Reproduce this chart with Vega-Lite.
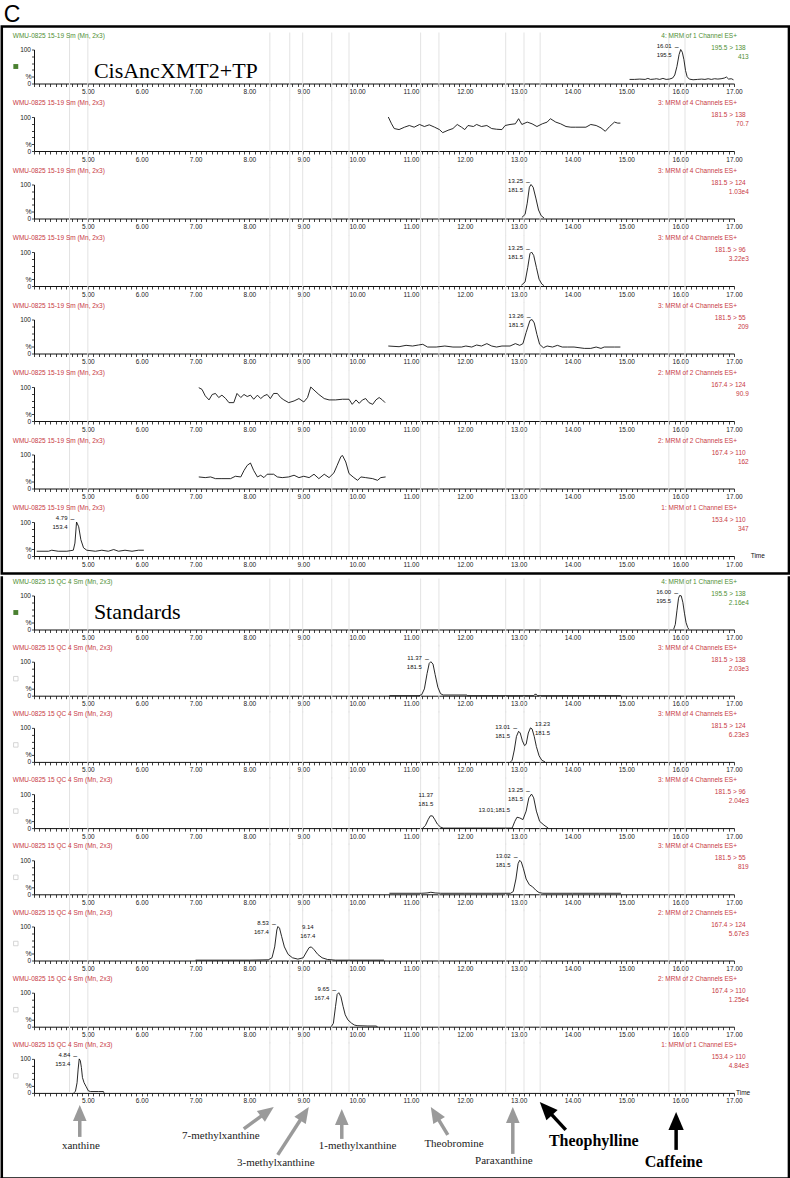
{
"$schema":"https://vega.github.io/schema/vega-lite/v6.json",
"background":"white",
"padding":{"left":0,"top":3.5,"right":0,"bottom":0},
"datasets":{
"guides":[{"g":4.66},{"g":5.0},{"g":8.38},{"g":8.75},{"g":8.99},{"g":9.53},{"g":9.85},{"g":11.18},{"g":11.52},{"g":12.76},{"g":13.1},{"g":13.4},{"g":15.79},{"g":16.09}],
"info":[
{"p":1,"fn":4,"run":"WMU-0825 15-19 Sm (Mn, 2x3)","mrm":"4: MRM of 1 Channel ES+","trans":"195.5 > 138","sc":"413"},
{"p":2,"fn":3,"run":"WMU-0825 15-19 Sm (Mn, 2x3)","mrm":"3: MRM of 4 Channels ES+","trans":"181.5 > 138","sc":"70.7"},
{"p":3,"fn":3,"run":"WMU-0825 15-19 Sm (Mn, 2x3)","mrm":"3: MRM of 4 Channels ES+","trans":"181.5 > 124","sc":"1.03e4"},
{"p":4,"fn":3,"run":"WMU-0825 15-19 Sm (Mn, 2x3)","mrm":"3: MRM of 4 Channels ES+","trans":"181.5 > 96","sc":"3.22e3"},
{"p":5,"fn":3,"run":"WMU-0825 15-19 Sm (Mn, 2x3)","mrm":"3: MRM of 4 Channels ES+","trans":"181.5 > 55","sc":"209"},
{"p":6,"fn":2,"run":"WMU-0825 15-19 Sm (Mn, 2x3)","mrm":"2: MRM of 2 Channels ES+","trans":"167.4 > 124","sc":"90.9"},
{"p":7,"fn":2,"run":"WMU-0825 15-19 Sm (Mn, 2x3)","mrm":"2: MRM of 2 Channels ES+","trans":"167.4 > 110","sc":"162"},
{"p":8,"fn":1,"run":"WMU-0825 15-19 Sm (Mn, 2x3)","mrm":"1: MRM of 1 Channel ES+","trans":"153.4 > 110","sc":"347"},
{"p":9,"fn":4,"run":"WMU-0825 15 QC 4 Sm (Mn, 2x3)","mrm":"4: MRM of 1 Channel ES+","trans":"195.5 > 138","sc":"2.16e4"},
{"p":10,"fn":3,"run":"WMU-0825 15 QC 4 Sm (Mn, 2x3)","mrm":"3: MRM of 4 Channels ES+","trans":"181.5 > 138","sc":"2.03e3"},
{"p":11,"fn":3,"run":"WMU-0825 15 QC 4 Sm (Mn, 2x3)","mrm":"3: MRM of 4 Channels ES+","trans":"181.5 > 124","sc":"6.23e3"},
{"p":12,"fn":3,"run":"WMU-0825 15 QC 4 Sm (Mn, 2x3)","mrm":"3: MRM of 4 Channels ES+","trans":"181.5 > 96","sc":"2.04e3"},
{"p":13,"fn":3,"run":"WMU-0825 15 QC 4 Sm (Mn, 2x3)","mrm":"3: MRM of 4 Channels ES+","trans":"181.5 > 55","sc":"819"},
{"p":14,"fn":2,"run":"WMU-0825 15 QC 4 Sm (Mn, 2x3)","mrm":"2: MRM of 2 Channels ES+","trans":"167.4 > 124","sc":"5.67e3"},
{"p":15,"fn":2,"run":"WMU-0825 15 QC 4 Sm (Mn, 2x3)","mrm":"2: MRM of 2 Channels ES+","trans":"167.4 > 110","sc":"1.25e4"},
{"p":16,"fn":1,"run":"WMU-0825 15 QC 4 Sm (Mn, 2x3)","mrm":"1: MRM of 1 Channel ES+","trans":"153.4 > 110","sc":"4.84e3"}
],
"peaks":[
{"p":1,"rt":16.01,"ht":100,"l1":"16.01","l2":"195.5"},
{"p":3,"rt":13.25,"ht":100,"l1":"13.25","l2":"181.5"},
{"p":4,"rt":13.25,"ht":100,"l1":"13.25","l2":"181.5"},
{"p":5,"rt":13.26,"ht":100,"l1":"13.26","l2":"181.5"},
{"p":8,"rt":4.79,"ht":100,"l1":"4.79","l2":"153.4"},
{"p":9,"rt":16.0,"ht":100,"l1":"16.00","l2":"195.5"},
{"p":10,"rt":11.37,"ht":100,"l1":"11.37","l2":"181.5"},
{"p":11,"rt":13.01,"ht":90,"l1":"13.01","l2":"181.5"},
{"p":12,"rt":13.25,"ht":100,"l1":"13.25","l2":"181.5"},
{"p":13,"rt":13.02,"ht":100,"l1":"13.02","l2":"181.5"},
{"p":14,"rt":8.53,"ht":100,"l1":"8.53","l2":"167.4"},
{"p":15,"rt":9.65,"ht":100,"l1":"9.65","l2":"167.4"},
{"p":16,"rt":4.84,"ht":100,"l1":"4.84","l2":"153.4"}
],
"tr":[
{"p":1,"t":15.06,"v":12},{"p":1,"t":15.15,"v":12},{"p":1,"t":15.25,"v":13},{"p":1,"t":15.35,"v":12},{"p":1,"t":15.4,"v":15},{"p":1,"t":15.45,"v":12},{"p":1,"t":15.52,"v":13},{"p":1,"t":15.56,"v":14},{"p":1,"t":15.62,"v":12},{"p":1,"t":15.68,"v":15},{"p":1,"t":15.74,"v":12},{"p":1,"t":15.8,"v":13},{"p":1,"t":15.86,"v":16},{"p":1,"t":15.9,"v":25},{"p":1,"t":15.94,"v":50},{"p":1,"t":15.98,"v":85},{"p":1,"t":16.01,"v":100},{"p":1,"t":16.04,"v":92},{"p":1,"t":16.07,"v":70},{"p":1,"t":16.1,"v":38},{"p":1,"t":16.13,"v":20},{"p":1,"t":16.17,"v":13},{"p":1,"t":16.24,"v":11},{"p":1,"t":16.32,"v":12},{"p":1,"t":16.4,"v":13},{"p":1,"t":16.46,"v":12},{"p":1,"t":16.52,"v":14},{"p":1,"t":16.58,"v":12},{"p":1,"t":16.64,"v":14},{"p":1,"t":16.7,"v":13},{"p":1,"t":16.76,"v":14},{"p":1,"t":16.82,"v":16},{"p":1,"t":16.86,"v":19},{"p":1,"t":16.9,"v":13},{"p":1,"t":16.95,"v":14},{"p":1,"t":16.99,"v":11},
{"p":2,"t":10.58,"v":100},{"p":2,"t":10.64,"v":80},{"p":2,"t":10.69,"v":66},{"p":2,"t":10.78,"v":63},{"p":2,"t":10.88,"v":70},{"p":2,"t":10.97,"v":75},{"p":2,"t":11.06,"v":70},{"p":2,"t":11.16,"v":78},{"p":2,"t":11.25,"v":72},{"p":2,"t":11.34,"v":77},{"p":2,"t":11.44,"v":70},{"p":2,"t":11.53,"v":63},{"p":2,"t":11.59,"v":54},{"p":2,"t":11.69,"v":61},{"p":2,"t":11.78,"v":66},{"p":2,"t":11.86,"v":78},{"p":2,"t":11.94,"v":70},{"p":2,"t":12.0,"v":63},{"p":2,"t":12.06,"v":75},{"p":2,"t":12.16,"v":72},{"p":2,"t":12.22,"v":78},{"p":2,"t":12.31,"v":72},{"p":2,"t":12.41,"v":75},{"p":2,"t":12.5,"v":66},{"p":2,"t":12.59,"v":64},{"p":2,"t":12.69,"v":63},{"p":2,"t":12.75,"v":75},{"p":2,"t":12.84,"v":78},{"p":2,"t":12.94,"v":80},{"p":2,"t":13.0,"v":95},{"p":2,"t":13.06,"v":78},{"p":2,"t":13.16,"v":85},{"p":2,"t":13.25,"v":80},{"p":2,"t":13.34,"v":72},{"p":2,"t":13.44,"v":80},{"p":2,"t":13.53,"v":85},{"p":2,"t":13.59,"v":95},{"p":2,"t":13.69,"v":85},{"p":2,"t":13.78,"v":80},{"p":2,"t":13.88,"v":72},{"p":2,"t":13.97,"v":70},{"p":2,"t":14.06,"v":70},{"p":2,"t":14.25,"v":70},{"p":2,"t":14.34,"v":78},{"p":2,"t":14.44,"v":75},{"p":2,"t":14.53,"v":68},{"p":2,"t":14.61,"v":58},{"p":2,"t":14.69,"v":72},{"p":2,"t":14.78,"v":85},{"p":2,"t":14.84,"v":82},{"p":2,"t":14.89,"v":82},
{"p":3,"t":13.06,"v":3},{"p":3,"t":13.12,"v":12},{"p":3,"t":13.16,"v":45},{"p":3,"t":13.2,"v":92},{"p":3,"t":13.23,"v":100},{"p":3,"t":13.27,"v":92},{"p":3,"t":13.32,"v":60},{"p":3,"t":13.37,"v":25},{"p":3,"t":13.42,"v":8},{"p":3,"t":13.47,"v":2},
{"p":4,"t":13.05,"v":2},{"p":4,"t":13.12,"v":12},{"p":4,"t":13.17,"v":55},{"p":4,"t":13.21,"v":95},{"p":4,"t":13.24,"v":100},{"p":4,"t":13.28,"v":90},{"p":4,"t":13.33,"v":55},{"p":4,"t":13.38,"v":20},{"p":4,"t":13.43,"v":6},{"p":4,"t":13.47,"v":1},
{"p":5,"t":10.58,"v":22},{"p":5,"t":10.78,"v":20},{"p":5,"t":10.91,"v":24},{"p":5,"t":11.03,"v":22},{"p":5,"t":11.14,"v":25},{"p":5,"t":11.22,"v":27},{"p":5,"t":11.31,"v":19},{"p":5,"t":11.47,"v":19},{"p":5,"t":11.63,"v":22},{"p":5,"t":11.78,"v":19},{"p":5,"t":11.94,"v":19},{"p":5,"t":12.02,"v":22},{"p":5,"t":12.13,"v":19},{"p":5,"t":12.22,"v":25},{"p":5,"t":12.31,"v":22},{"p":5,"t":12.41,"v":29},{"p":5,"t":12.5,"v":22},{"p":5,"t":12.59,"v":19},{"p":5,"t":12.69,"v":22},{"p":5,"t":12.84,"v":22},{"p":5,"t":12.94,"v":29},{"p":5,"t":13.02,"v":24},{"p":5,"t":13.08,"v":29},{"p":5,"t":13.14,"v":62},{"p":5,"t":13.21,"v":97},{"p":5,"t":13.25,"v":100},{"p":5,"t":13.29,"v":90},{"p":5,"t":13.34,"v":56},{"p":5,"t":13.39,"v":27},{"p":5,"t":13.46,"v":17},{"p":5,"t":13.53,"v":22},{"p":5,"t":13.63,"v":19},{"p":5,"t":13.72,"v":24},{"p":5,"t":13.81,"v":19},{"p":5,"t":13.91,"v":19},{"p":5,"t":14.03,"v":19},{"p":5,"t":14.22,"v":15},{"p":5,"t":14.34,"v":15},{"p":5,"t":14.44,"v":19},{"p":5,"t":14.53,"v":15},{"p":5,"t":14.59,"v":19},{"p":5,"t":14.78,"v":19},{"p":5,"t":14.89,"v":19},
{"p":6,"t":7.06,"v":98},{"p":6,"t":7.12,"v":93},{"p":6,"t":7.18,"v":74},{"p":6,"t":7.25,"v":62},{"p":6,"t":7.31,"v":78},{"p":6,"t":7.37,"v":81},{"p":6,"t":7.43,"v":69},{"p":6,"t":7.49,"v":76},{"p":6,"t":7.56,"v":66},{"p":6,"t":7.62,"v":54},{"p":6,"t":7.71,"v":54},{"p":6,"t":7.77,"v":81},{"p":6,"t":7.84,"v":69},{"p":6,"t":7.9,"v":78},{"p":6,"t":7.96,"v":72},{"p":6,"t":8.02,"v":76},{"p":6,"t":8.08,"v":64},{"p":6,"t":8.15,"v":76},{"p":6,"t":8.21,"v":66},{"p":6,"t":8.27,"v":74},{"p":6,"t":8.33,"v":78},{"p":6,"t":8.39,"v":66},{"p":6,"t":8.45,"v":81},{"p":6,"t":8.52,"v":81},{"p":6,"t":8.58,"v":69},{"p":6,"t":8.64,"v":62},{"p":6,"t":8.73,"v":54},{"p":6,"t":8.83,"v":59},{"p":6,"t":8.92,"v":66},{"p":6,"t":9.01,"v":56},{"p":6,"t":9.08,"v":69},{"p":6,"t":9.14,"v":100},{"p":6,"t":9.2,"v":91},{"p":6,"t":9.29,"v":78},{"p":6,"t":9.39,"v":66},{"p":6,"t":9.48,"v":62},{"p":6,"t":9.6,"v":62},{"p":6,"t":9.73,"v":64},{"p":6,"t":9.85,"v":64},{"p":6,"t":9.91,"v":49},{"p":6,"t":9.98,"v":62},{"p":6,"t":10.04,"v":52},{"p":6,"t":10.1,"v":62},{"p":6,"t":10.16,"v":66},{"p":6,"t":10.22,"v":54},{"p":6,"t":10.29,"v":49},{"p":6,"t":10.35,"v":62},{"p":6,"t":10.41,"v":69},{"p":6,"t":10.47,"v":62},{"p":6,"t":10.52,"v":54},
{"p":7,"t":7.06,"v":34},{"p":7,"t":7.18,"v":32},{"p":7,"t":7.28,"v":34},{"p":7,"t":7.37,"v":29},{"p":7,"t":7.49,"v":29},{"p":7,"t":7.65,"v":29},{"p":7,"t":7.74,"v":36},{"p":7,"t":7.84,"v":34},{"p":7,"t":7.9,"v":53},{"p":7,"t":7.96,"v":68},{"p":7,"t":8.02,"v":75},{"p":7,"t":8.08,"v":53},{"p":7,"t":8.15,"v":34},{"p":7,"t":8.21,"v":39},{"p":7,"t":8.27,"v":32},{"p":7,"t":8.33,"v":42},{"p":7,"t":8.45,"v":42},{"p":7,"t":8.52,"v":34},{"p":7,"t":8.61,"v":32},{"p":7,"t":8.73,"v":34},{"p":7,"t":8.83,"v":39},{"p":7,"t":8.92,"v":32},{"p":7,"t":9.01,"v":36},{"p":7,"t":9.11,"v":32},{"p":7,"t":9.2,"v":42},{"p":7,"t":9.29,"v":29},{"p":7,"t":9.39,"v":42},{"p":7,"t":9.48,"v":32},{"p":7,"t":9.57,"v":46},{"p":7,"t":9.63,"v":68},{"p":7,"t":9.7,"v":94},{"p":7,"t":9.73,"v":97},{"p":7,"t":9.79,"v":78},{"p":7,"t":9.85,"v":44},{"p":7,"t":9.94,"v":32},{"p":7,"t":10.01,"v":24},{"p":7,"t":10.07,"v":34},{"p":7,"t":10.16,"v":32},{"p":7,"t":10.29,"v":29},{"p":7,"t":10.38,"v":24},{"p":7,"t":10.44,"v":32},{"p":7,"t":10.53,"v":34},
{"p":8,"t":4.05,"v":14},{"p":8,"t":4.27,"v":14},{"p":8,"t":4.33,"v":17},{"p":8,"t":4.45,"v":14},{"p":8,"t":4.61,"v":14},{"p":8,"t":4.73,"v":17},{"p":8,"t":4.76,"v":38},{"p":8,"t":4.79,"v":100},{"p":8,"t":4.83,"v":86},{"p":8,"t":4.87,"v":48},{"p":8,"t":4.92,"v":24},{"p":8,"t":4.98,"v":17},{"p":8,"t":5.14,"v":14},{"p":8,"t":5.26,"v":17},{"p":8,"t":5.38,"v":14},{"p":8,"t":5.48,"v":19},{"p":8,"t":5.57,"v":14},{"p":8,"t":5.69,"v":17},{"p":8,"t":5.82,"v":14},{"p":8,"t":5.94,"v":17},{"p":8,"t":6.04,"v":17},
{"p":9,"t":15.88,"v":1},{"p":9,"t":15.91,"v":15},{"p":9,"t":15.94,"v":55},{"p":9,"t":15.97,"v":92},{"p":9,"t":15.99,"v":100},{"p":9,"t":16.02,"v":99},{"p":9,"t":16.05,"v":80},{"p":9,"t":16.08,"v":48},{"p":9,"t":16.11,"v":20},{"p":9,"t":16.14,"v":6},{"p":9,"t":16.16,"v":1},
{"p":10,"t":10.6,"v":0},{"p":10,"t":11.15,"v":0},{"p":10,"t":11.2,"v":3},{"p":10,"t":11.25,"v":20},{"p":10,"t":11.3,"v":65},{"p":10,"t":11.34,"v":95},{"p":10,"t":11.37,"v":100},{"p":10,"t":11.41,"v":93},{"p":10,"t":11.45,"v":62},{"p":10,"t":11.5,"v":25},{"p":10,"t":11.55,"v":6},{"p":10,"t":11.6,"v":2},{"p":10,"t":12.04,"v":2},{"p":10,"t":12.05,"v":0},{"p":10,"t":13.28,"v":0},{"p":10,"t":13.3,"v":4},{"p":10,"t":13.33,"v":4},{"p":10,"t":13.35,"v":0},{"p":10,"t":14.9,"v":0},
{"p":11,"t":12.85,"v":0},{"p":11,"t":12.88,"v":5},{"p":11,"t":12.92,"v":35},{"p":11,"t":12.96,"v":75},{"p":11,"t":13.0,"v":90},{"p":11,"t":13.03,"v":85},{"p":11,"t":13.07,"v":62},{"p":11,"t":13.11,"v":48},{"p":11,"t":13.14,"v":52},{"p":11,"t":13.18,"v":85},{"p":11,"t":13.22,"v":100},{"p":11,"t":13.25,"v":97},{"p":11,"t":13.29,"v":75},{"p":11,"t":13.33,"v":45},{"p":11,"t":13.38,"v":18},{"p":11,"t":13.43,"v":5},{"p":11,"t":13.49,"v":0},
{"p":12,"t":11.22,"v":0},{"p":12,"t":11.27,"v":8},{"p":12,"t":11.32,"v":25},{"p":12,"t":11.36,"v":36},{"p":12,"t":11.4,"v":36},{"p":12,"t":11.44,"v":26},{"p":12,"t":11.49,"v":12},{"p":12,"t":11.55,"v":3},{"p":12,"t":11.6,"v":0},{"p":12,"t":12.88,"v":0},{"p":12,"t":12.93,"v":20},{"p":12,"t":12.97,"v":32},{"p":12,"t":13.02,"v":30},{"p":12,"t":13.08,"v":25},{"p":12,"t":13.14,"v":50},{"p":12,"t":13.19,"v":89},{"p":12,"t":13.24,"v":100},{"p":12,"t":13.28,"v":89},{"p":12,"t":13.33,"v":50},{"p":12,"t":13.39,"v":20},{"p":12,"t":13.47,"v":9},{"p":12,"t":13.55,"v":0},
{"p":13,"t":10.6,"v":3},{"p":13,"t":11.2,"v":3},{"p":13,"t":11.3,"v":4},{"p":13,"t":11.37,"v":6},{"p":13,"t":11.45,"v":4},{"p":13,"t":11.55,"v":3},{"p":13,"t":12.0,"v":3},{"p":13,"t":12.5,"v":3},{"p":13,"t":12.85,"v":3},{"p":13,"t":12.9,"v":8},{"p":13,"t":12.95,"v":45},{"p":13,"t":12.99,"v":90},{"p":13,"t":13.02,"v":100},{"p":13,"t":13.05,"v":95},{"p":13,"t":13.09,"v":75},{"p":13,"t":13.14,"v":45},{"p":13,"t":13.2,"v":28},{"p":13,"t":13.26,"v":22},{"p":13,"t":13.32,"v":12},{"p":13,"t":13.38,"v":5},{"p":13,"t":13.45,"v":3},{"p":13,"t":14.0,"v":3},{"p":13,"t":14.5,"v":3},{"p":13,"t":14.9,"v":3},
{"p":14,"t":7.0,"v":1},{"p":14,"t":8.0,"v":1},{"p":14,"t":8.35,"v":2},{"p":14,"t":8.42,"v":8},{"p":14,"t":8.47,"v":40},{"p":14,"t":8.51,"v":90},{"p":14,"t":8.53,"v":100},{"p":14,"t":8.56,"v":95},{"p":14,"t":8.6,"v":70},{"p":14,"t":8.65,"v":40},{"p":14,"t":8.72,"v":18},{"p":14,"t":8.8,"v":8},{"p":14,"t":8.9,"v":4},{"p":14,"t":9.0,"v":8},{"p":14,"t":9.06,"v":25},{"p":14,"t":9.11,"v":38},{"p":14,"t":9.15,"v":40},{"p":14,"t":9.2,"v":32},{"p":14,"t":9.27,"v":18},{"p":14,"t":9.35,"v":8},{"p":14,"t":9.45,"v":3},{"p":14,"t":9.6,"v":1},{"p":14,"t":10.5,"v":1},
{"p":15,"t":9.52,"v":0},{"p":15,"t":9.56,"v":10},{"p":15,"t":9.6,"v":60},{"p":15,"t":9.63,"v":95},{"p":15,"t":9.66,"v":100},{"p":15,"t":9.7,"v":88},{"p":15,"t":9.74,"v":60},{"p":15,"t":9.78,"v":35},{"p":15,"t":9.83,"v":20},{"p":15,"t":9.9,"v":10},{"p":15,"t":9.95,"v":5},{"p":15,"t":10.0,"v":3},{"p":15,"t":10.2,"v":2},{"p":15,"t":10.35,"v":2},{"p":15,"t":10.38,"v":0},
{"p":16,"t":4.74,"v":0},{"p":16,"t":4.77,"v":5},{"p":16,"t":4.8,"v":30},{"p":16,"t":4.82,"v":70},{"p":16,"t":4.84,"v":100},{"p":16,"t":4.86,"v":95},{"p":16,"t":4.88,"v":75},{"p":16,"t":4.9,"v":45},{"p":16,"t":4.93,"v":30},{"p":16,"t":4.97,"v":18},{"p":16,"t":5.01,"v":6},{"p":16,"t":5.05,"v":4},{"p":16,"t":5.2,"v":4},{"p":16,"t":5.29,"v":4},{"p":16,"t":5.3,"v":0}
]
},
"spacing":0,
"vconcat":[
{"spacing":33.5,"bounds":"flush","vconcat":[
{"width":700,"height":34,"layer":[
{"data":{"name":"guides"},"mark":{"type":"rule","color":"#e3e3e3","strokeWidth":1},"encoding":{"x":{"field":"g","type":"quantitative"},"y":{"datum":150},"y2":{"datum":-50}}},
{"data":{"name":"tr"},"transform":[{"filter":"datum.p==1"}],"mark":{"type":"line","color":"#111111","strokeWidth":0.9},"encoding":{"x":{"field":"t","type":"quantitative","scale":{"domain":[4,17],"nice":false,"zero":false},"axis":{"title":null,"labelExpr":"abs(datum.value-round(datum.value))<0.01 && datum.value>4.5 ? format(datum.value,'.2f') : ''"}},"y":{"field":"v","type":"quantitative","scale":{"domain":[0,100],"nice":false,"zero":false},"axis":{"title":"%","labelExpr":"datum.value==0 || datum.value==100 ? datum.label : ''"}}}},
{"data":{"name":"info"},"transform":[{"filter":"datum.p==1"}],"encoding":{"color":{"condition":{"test":"datum.fn==4","value":"#4f8f35"},"value":"#c83a44"}},"layer":[
{"mark":{"type":"text","align":"left","baseline":"middle","fontSize":6.5,"dy":-14},"encoding":{"x":{"datum":3.606},"y":{"datum":100},"text":{"field":"run"}}},
{"mark":{"type":"text","align":"right","baseline":"middle","fontSize":6.5,"dy":-14},"encoding":{"x":{"datum":17.056},"y":{"datum":100},"text":{"field":"mrm"}}},
{"mark":{"type":"text","align":"right","baseline":"middle","fontSize":6.5,"dy":-2},"encoding":{"x":{"datum":17.218},"y":{"datum":100},"text":{"field":"trans"}}},
{"mark":{"type":"text","align":"right","baseline":"middle","fontSize":6.5,"dy":7},"encoding":{"x":{"datum":17.274},"y":{"datum":100},"text":{"field":"sc"}}}]},
{"data":{"name":"peaks"},"transform":[{"filter":"datum.p==1"}],"encoding":{"x":{"field":"rt","type":"quantitative"},"y":{"field":"ht","type":"quantitative"}},"layer":[
{"mark":{"type":"text","align":"right","baseline":"middle","fontSize":6,"dx":-9,"dy":-4},"encoding":{"text":{"field":"l1"}}},
{"mark":{"type":"text","align":"right","baseline":"middle","fontSize":6,"dx":-9,"dy":5},"encoding":{"text":{"field":"l2"}}},
{"mark":{"type":"text","align":"center","baseline":"middle","fontSize":7,"dx":-4,"dy":-3,"text":"–"}}]},
{"data":{"values":[{}]},"layer":[
{"mark":{"type":"rect","fillOpacity":0,"stroke":"#000000","strokeWidth":2.5},"encoding":{"x":{"datum":3.402},"x2":{"datum":18.02},"y":{"datum":167.6},"y2":{"datum":-1441}}},
{"mark":{"type":"text","text":"C","font":"Liberation Sans","fontSize":23,"align":"left","baseline":"top","dy":-45.5,"color":"#000000"},"encoding":{"x":{"datum":3.439},"y":{"datum":100}}},
{"mark":{"type":"text","text":"CisAncXMT2+TP","font":"Liberation Serif","fontSize":22,"align":"left","baseline":"alphabetic","color":"#000000"},"encoding":{"x":{"datum":5.112},"y":{"datum":15}}},
{"mark":{"type":"square","size":24,"filled":true,"color":"#4a8030","opacity":1},"encoding":{"x":{"datum":3.662},"y":{"datum":50}}}]}
]},
{"width":700,"height":34,"layer":[
{"data":{"name":"guides"},"mark":{"type":"rule","color":"#e3e3e3","strokeWidth":1},"encoding":{"x":{"field":"g","type":"quantitative"},"y":{"datum":150},"y2":{"datum":-50}}},
{"data":{"name":"tr"},"transform":[{"filter":"datum.p==2"}],"mark":{"type":"line","color":"#111111","strokeWidth":0.9},"encoding":{"x":{"field":"t","type":"quantitative","scale":{"domain":[4,17],"nice":false,"zero":false},"axis":{"title":null,"labelExpr":"abs(datum.value-round(datum.value))<0.01 && datum.value>4.5 ? format(datum.value,'.2f') : ''"}},"y":{"field":"v","type":"quantitative","scale":{"domain":[0,100],"nice":false,"zero":false},"axis":{"title":"%","labelExpr":"datum.value==0 || datum.value==100 ? datum.label : ''"}}}},
{"data":{"name":"info"},"transform":[{"filter":"datum.p==2"}],"encoding":{"color":{"condition":{"test":"datum.fn==4","value":"#4f8f35"},"value":"#c83a44"}},"layer":[
{"mark":{"type":"text","align":"left","baseline":"middle","fontSize":6.5,"dy":-14},"encoding":{"x":{"datum":3.606},"y":{"datum":100},"text":{"field":"run"}}},
{"mark":{"type":"text","align":"right","baseline":"middle","fontSize":6.5,"dy":-14},"encoding":{"x":{"datum":17.056},"y":{"datum":100},"text":{"field":"mrm"}}},
{"mark":{"type":"text","align":"right","baseline":"middle","fontSize":6.5,"dy":-2},"encoding":{"x":{"datum":17.218},"y":{"datum":100},"text":{"field":"trans"}}},
{"mark":{"type":"text","align":"right","baseline":"middle","fontSize":6.5,"dy":7},"encoding":{"x":{"datum":17.274},"y":{"datum":100},"text":{"field":"sc"}}}]}
]},
{"width":700,"height":34,"layer":[
{"data":{"name":"guides"},"mark":{"type":"rule","color":"#e3e3e3","strokeWidth":1},"encoding":{"x":{"field":"g","type":"quantitative"},"y":{"datum":150},"y2":{"datum":-50}}},
{"data":{"name":"tr"},"transform":[{"filter":"datum.p==3"}],"mark":{"type":"line","color":"#111111","strokeWidth":0.9},"encoding":{"x":{"field":"t","type":"quantitative","scale":{"domain":[4,17],"nice":false,"zero":false},"axis":{"title":null,"labelExpr":"abs(datum.value-round(datum.value))<0.01 && datum.value>4.5 ? format(datum.value,'.2f') : ''"}},"y":{"field":"v","type":"quantitative","scale":{"domain":[0,100],"nice":false,"zero":false},"axis":{"title":"%","labelExpr":"datum.value==0 || datum.value==100 ? datum.label : ''"}}}},
{"data":{"name":"info"},"transform":[{"filter":"datum.p==3"}],"encoding":{"color":{"condition":{"test":"datum.fn==4","value":"#4f8f35"},"value":"#c83a44"}},"layer":[
{"mark":{"type":"text","align":"left","baseline":"middle","fontSize":6.5,"dy":-14},"encoding":{"x":{"datum":3.606},"y":{"datum":100},"text":{"field":"run"}}},
{"mark":{"type":"text","align":"right","baseline":"middle","fontSize":6.5,"dy":-14},"encoding":{"x":{"datum":17.056},"y":{"datum":100},"text":{"field":"mrm"}}},
{"mark":{"type":"text","align":"right","baseline":"middle","fontSize":6.5,"dy":-2},"encoding":{"x":{"datum":17.218},"y":{"datum":100},"text":{"field":"trans"}}},
{"mark":{"type":"text","align":"right","baseline":"middle","fontSize":6.5,"dy":7},"encoding":{"x":{"datum":17.274},"y":{"datum":100},"text":{"field":"sc"}}}]},
{"data":{"name":"peaks"},"transform":[{"filter":"datum.p==3"}],"encoding":{"x":{"field":"rt","type":"quantitative"},"y":{"field":"ht","type":"quantitative"}},"layer":[
{"mark":{"type":"text","align":"right","baseline":"middle","fontSize":6,"dx":-9,"dy":-4},"encoding":{"text":{"field":"l1"}}},
{"mark":{"type":"text","align":"right","baseline":"middle","fontSize":6,"dx":-9,"dy":5},"encoding":{"text":{"field":"l2"}}},
{"mark":{"type":"text","align":"center","baseline":"middle","fontSize":7,"dx":-4,"dy":-3,"text":"–"}}]}
]},
{"width":700,"height":34,"layer":[
{"data":{"name":"guides"},"mark":{"type":"rule","color":"#e3e3e3","strokeWidth":1},"encoding":{"x":{"field":"g","type":"quantitative"},"y":{"datum":150},"y2":{"datum":-50}}},
{"data":{"name":"tr"},"transform":[{"filter":"datum.p==4"}],"mark":{"type":"line","color":"#111111","strokeWidth":0.9},"encoding":{"x":{"field":"t","type":"quantitative","scale":{"domain":[4,17],"nice":false,"zero":false},"axis":{"title":null,"labelExpr":"abs(datum.value-round(datum.value))<0.01 && datum.value>4.5 ? format(datum.value,'.2f') : ''"}},"y":{"field":"v","type":"quantitative","scale":{"domain":[0,100],"nice":false,"zero":false},"axis":{"title":"%","labelExpr":"datum.value==0 || datum.value==100 ? datum.label : ''"}}}},
{"data":{"name":"info"},"transform":[{"filter":"datum.p==4"}],"encoding":{"color":{"condition":{"test":"datum.fn==4","value":"#4f8f35"},"value":"#c83a44"}},"layer":[
{"mark":{"type":"text","align":"left","baseline":"middle","fontSize":6.5,"dy":-14},"encoding":{"x":{"datum":3.606},"y":{"datum":100},"text":{"field":"run"}}},
{"mark":{"type":"text","align":"right","baseline":"middle","fontSize":6.5,"dy":-14},"encoding":{"x":{"datum":17.056},"y":{"datum":100},"text":{"field":"mrm"}}},
{"mark":{"type":"text","align":"right","baseline":"middle","fontSize":6.5,"dy":-2},"encoding":{"x":{"datum":17.218},"y":{"datum":100},"text":{"field":"trans"}}},
{"mark":{"type":"text","align":"right","baseline":"middle","fontSize":6.5,"dy":7},"encoding":{"x":{"datum":17.274},"y":{"datum":100},"text":{"field":"sc"}}}]},
{"data":{"name":"peaks"},"transform":[{"filter":"datum.p==4"}],"encoding":{"x":{"field":"rt","type":"quantitative"},"y":{"field":"ht","type":"quantitative"}},"layer":[
{"mark":{"type":"text","align":"right","baseline":"middle","fontSize":6,"dx":-9,"dy":-4},"encoding":{"text":{"field":"l1"}}},
{"mark":{"type":"text","align":"right","baseline":"middle","fontSize":6,"dx":-9,"dy":5},"encoding":{"text":{"field":"l2"}}},
{"mark":{"type":"text","align":"center","baseline":"middle","fontSize":7,"dx":-4,"dy":-3,"text":"–"}}]}
]},
{"width":700,"height":34,"layer":[
{"data":{"name":"guides"},"mark":{"type":"rule","color":"#e3e3e3","strokeWidth":1},"encoding":{"x":{"field":"g","type":"quantitative"},"y":{"datum":150},"y2":{"datum":-50}}},
{"data":{"name":"tr"},"transform":[{"filter":"datum.p==5"}],"mark":{"type":"line","color":"#111111","strokeWidth":0.9},"encoding":{"x":{"field":"t","type":"quantitative","scale":{"domain":[4,17],"nice":false,"zero":false},"axis":{"title":null,"labelExpr":"abs(datum.value-round(datum.value))<0.01 && datum.value>4.5 ? format(datum.value,'.2f') : ''"}},"y":{"field":"v","type":"quantitative","scale":{"domain":[0,100],"nice":false,"zero":false},"axis":{"title":"%","labelExpr":"datum.value==0 || datum.value==100 ? datum.label : ''"}}}},
{"data":{"name":"info"},"transform":[{"filter":"datum.p==5"}],"encoding":{"color":{"condition":{"test":"datum.fn==4","value":"#4f8f35"},"value":"#c83a44"}},"layer":[
{"mark":{"type":"text","align":"left","baseline":"middle","fontSize":6.5,"dy":-14},"encoding":{"x":{"datum":3.606},"y":{"datum":100},"text":{"field":"run"}}},
{"mark":{"type":"text","align":"right","baseline":"middle","fontSize":6.5,"dy":-14},"encoding":{"x":{"datum":17.056},"y":{"datum":100},"text":{"field":"mrm"}}},
{"mark":{"type":"text","align":"right","baseline":"middle","fontSize":6.5,"dy":-2},"encoding":{"x":{"datum":17.218},"y":{"datum":100},"text":{"field":"trans"}}},
{"mark":{"type":"text","align":"right","baseline":"middle","fontSize":6.5,"dy":7},"encoding":{"x":{"datum":17.274},"y":{"datum":100},"text":{"field":"sc"}}}]},
{"data":{"name":"peaks"},"transform":[{"filter":"datum.p==5"}],"encoding":{"x":{"field":"rt","type":"quantitative"},"y":{"field":"ht","type":"quantitative"}},"layer":[
{"mark":{"type":"text","align":"right","baseline":"middle","fontSize":6,"dx":-9,"dy":-4},"encoding":{"text":{"field":"l1"}}},
{"mark":{"type":"text","align":"right","baseline":"middle","fontSize":6,"dx":-9,"dy":5},"encoding":{"text":{"field":"l2"}}},
{"mark":{"type":"text","align":"center","baseline":"middle","fontSize":7,"dx":-4,"dy":-3,"text":"–"}}]}
]},
{"width":700,"height":34,"layer":[
{"data":{"name":"guides"},"mark":{"type":"rule","color":"#e3e3e3","strokeWidth":1},"encoding":{"x":{"field":"g","type":"quantitative"},"y":{"datum":150},"y2":{"datum":-50}}},
{"data":{"name":"tr"},"transform":[{"filter":"datum.p==6"}],"mark":{"type":"line","color":"#111111","strokeWidth":0.9},"encoding":{"x":{"field":"t","type":"quantitative","scale":{"domain":[4,17],"nice":false,"zero":false},"axis":{"title":null,"labelExpr":"abs(datum.value-round(datum.value))<0.01 && datum.value>4.5 ? format(datum.value,'.2f') : ''"}},"y":{"field":"v","type":"quantitative","scale":{"domain":[0,100],"nice":false,"zero":false},"axis":{"title":"%","labelExpr":"datum.value==0 || datum.value==100 ? datum.label : ''"}}}},
{"data":{"name":"info"},"transform":[{"filter":"datum.p==6"}],"encoding":{"color":{"condition":{"test":"datum.fn==4","value":"#4f8f35"},"value":"#c83a44"}},"layer":[
{"mark":{"type":"text","align":"left","baseline":"middle","fontSize":6.5,"dy":-14},"encoding":{"x":{"datum":3.606},"y":{"datum":100},"text":{"field":"run"}}},
{"mark":{"type":"text","align":"right","baseline":"middle","fontSize":6.5,"dy":-14},"encoding":{"x":{"datum":17.056},"y":{"datum":100},"text":{"field":"mrm"}}},
{"mark":{"type":"text","align":"right","baseline":"middle","fontSize":6.5,"dy":-2},"encoding":{"x":{"datum":17.218},"y":{"datum":100},"text":{"field":"trans"}}},
{"mark":{"type":"text","align":"right","baseline":"middle","fontSize":6.5,"dy":7},"encoding":{"x":{"datum":17.274},"y":{"datum":100},"text":{"field":"sc"}}}]}
]},
{"width":700,"height":34,"layer":[
{"data":{"name":"guides"},"mark":{"type":"rule","color":"#e3e3e3","strokeWidth":1},"encoding":{"x":{"field":"g","type":"quantitative"},"y":{"datum":150},"y2":{"datum":-50}}},
{"data":{"name":"tr"},"transform":[{"filter":"datum.p==7"}],"mark":{"type":"line","color":"#111111","strokeWidth":0.9},"encoding":{"x":{"field":"t","type":"quantitative","scale":{"domain":[4,17],"nice":false,"zero":false},"axis":{"title":null,"labelExpr":"abs(datum.value-round(datum.value))<0.01 && datum.value>4.5 ? format(datum.value,'.2f') : ''"}},"y":{"field":"v","type":"quantitative","scale":{"domain":[0,100],"nice":false,"zero":false},"axis":{"title":"%","labelExpr":"datum.value==0 || datum.value==100 ? datum.label : ''"}}}},
{"data":{"name":"info"},"transform":[{"filter":"datum.p==7"}],"encoding":{"color":{"condition":{"test":"datum.fn==4","value":"#4f8f35"},"value":"#c83a44"}},"layer":[
{"mark":{"type":"text","align":"left","baseline":"middle","fontSize":6.5,"dy":-14},"encoding":{"x":{"datum":3.606},"y":{"datum":100},"text":{"field":"run"}}},
{"mark":{"type":"text","align":"right","baseline":"middle","fontSize":6.5,"dy":-14},"encoding":{"x":{"datum":17.056},"y":{"datum":100},"text":{"field":"mrm"}}},
{"mark":{"type":"text","align":"right","baseline":"middle","fontSize":6.5,"dy":-2},"encoding":{"x":{"datum":17.218},"y":{"datum":100},"text":{"field":"trans"}}},
{"mark":{"type":"text","align":"right","baseline":"middle","fontSize":6.5,"dy":7},"encoding":{"x":{"datum":17.274},"y":{"datum":100},"text":{"field":"sc"}}}]}
]},
{"width":700,"height":34,"layer":[
{"data":{"name":"guides"},"mark":{"type":"rule","color":"#e3e3e3","strokeWidth":1},"encoding":{"x":{"field":"g","type":"quantitative"},"y":{"datum":150},"y2":{"datum":0}}},
{"data":{"name":"tr"},"transform":[{"filter":"datum.p==8"}],"mark":{"type":"line","color":"#111111","strokeWidth":0.9},"encoding":{"x":{"field":"t","type":"quantitative","scale":{"domain":[4,17],"nice":false,"zero":false},"axis":{"title":null,"labelExpr":"abs(datum.value-round(datum.value))<0.01 && datum.value>4.5 ? format(datum.value,'.2f') : ''"}},"y":{"field":"v","type":"quantitative","scale":{"domain":[0,100],"nice":false,"zero":false},"axis":{"title":"%","labelExpr":"datum.value==0 || datum.value==100 ? datum.label : ''"}}}},
{"data":{"name":"info"},"transform":[{"filter":"datum.p==8"}],"encoding":{"color":{"condition":{"test":"datum.fn==4","value":"#4f8f35"},"value":"#c83a44"}},"layer":[
{"mark":{"type":"text","align":"left","baseline":"middle","fontSize":6.5,"dy":-14},"encoding":{"x":{"datum":3.606},"y":{"datum":100},"text":{"field":"run"}}},
{"mark":{"type":"text","align":"right","baseline":"middle","fontSize":6.5,"dy":-14},"encoding":{"x":{"datum":17.056},"y":{"datum":100},"text":{"field":"mrm"}}},
{"mark":{"type":"text","align":"right","baseline":"middle","fontSize":6.5,"dy":-2},"encoding":{"x":{"datum":17.218},"y":{"datum":100},"text":{"field":"trans"}}},
{"mark":{"type":"text","align":"right","baseline":"middle","fontSize":6.5,"dy":7},"encoding":{"x":{"datum":17.274},"y":{"datum":100},"text":{"field":"sc"}}}]},
{"data":{"name":"peaks"},"transform":[{"filter":"datum.p==8"}],"encoding":{"x":{"field":"rt","type":"quantitative"},"y":{"field":"ht","type":"quantitative"}},"layer":[
{"mark":{"type":"text","align":"right","baseline":"middle","fontSize":6,"dx":-9,"dy":-4},"encoding":{"text":{"field":"l1"}}},
{"mark":{"type":"text","align":"right","baseline":"middle","fontSize":6,"dx":-9,"dy":5},"encoding":{"text":{"field":"l2"}}},
{"mark":{"type":"text","align":"center","baseline":"middle","fontSize":7,"dx":-4,"dy":-3,"text":"–"}}]},
{"data":{"values":[{}]},"layer":[
{"mark":{"type":"text","text":"Time","align":"left","baseline":"middle","fontSize":6.5},"encoding":{"x":{"datum":17.31},"y":{"datum":0}}}]}
]}
]},
{"spacing":32.2,"bounds":"flush","vconcat":[
{"width":700,"height":34,"layer":[
{"data":{"name":"guides"},"mark":{"type":"rule","color":"#e3e3e3","strokeWidth":1},"encoding":{"x":{"field":"g","type":"quantitative"},"y":{"datum":150},"y2":{"datum":-50}}},
{"data":{"name":"tr"},"transform":[{"filter":"datum.p==9"}],"mark":{"type":"line","color":"#111111","strokeWidth":0.9},"encoding":{"x":{"field":"t","type":"quantitative","scale":{"domain":[4,17],"nice":false,"zero":false},"axis":{"title":null,"labelExpr":"abs(datum.value-round(datum.value))<0.01 && datum.value>4.5 ? format(datum.value,'.2f') : ''"}},"y":{"field":"v","type":"quantitative","scale":{"domain":[0,100],"nice":false,"zero":false},"axis":{"title":"%","labelExpr":"datum.value==0 || datum.value==100 ? datum.label : ''"}}}},
{"data":{"name":"info"},"transform":[{"filter":"datum.p==9"}],"encoding":{"color":{"condition":{"test":"datum.fn==4","value":"#4f8f35"},"value":"#c83a44"}},"layer":[
{"mark":{"type":"text","align":"left","baseline":"middle","fontSize":6.5,"dy":-14},"encoding":{"x":{"datum":3.606},"y":{"datum":100},"text":{"field":"run"}}},
{"mark":{"type":"text","align":"right","baseline":"middle","fontSize":6.5,"dy":-14},"encoding":{"x":{"datum":17.056},"y":{"datum":100},"text":{"field":"mrm"}}},
{"mark":{"type":"text","align":"right","baseline":"middle","fontSize":6.5,"dy":-2},"encoding":{"x":{"datum":17.218},"y":{"datum":100},"text":{"field":"trans"}}},
{"mark":{"type":"text","align":"right","baseline":"middle","fontSize":6.5,"dy":7},"encoding":{"x":{"datum":17.274},"y":{"datum":100},"text":{"field":"sc"}}}]},
{"data":{"name":"peaks"},"transform":[{"filter":"datum.p==9"}],"encoding":{"x":{"field":"rt","type":"quantitative"},"y":{"field":"ht","type":"quantitative"}},"layer":[
{"mark":{"type":"text","align":"right","baseline":"middle","fontSize":6,"dx":-9,"dy":-4},"encoding":{"text":{"field":"l1"}}},
{"mark":{"type":"text","align":"right","baseline":"middle","fontSize":6,"dx":-9,"dy":5},"encoding":{"text":{"field":"l2"}}},
{"mark":{"type":"text","align":"center","baseline":"middle","fontSize":7,"dx":-4,"dy":-3,"text":"–"}}]},
{"data":{"values":[{}]},"layer":[
{"mark":{"type":"rule","color":"#000000","strokeWidth":2.5,"strokeCap":"square"},"encoding":{"x":{"datum":3.402},"y":{"datum":152.9},"y2":{"datum":-1614.7}}},
{"mark":{"type":"rule","color":"#000000","strokeWidth":2.5,"strokeCap":"square"},"encoding":{"x":{"datum":18.02},"y":{"datum":152.9},"y2":{"datum":-1614.7}}},
{"mark":{"type":"rule","color":"#000000","strokeWidth":2.5,"strokeCap":"square"},"encoding":{"x":{"datum":3.402},"x2":{"datum":18.02},"y":{"datum":-1614.7}}},
{"mark":{"type":"text","text":"Standards","font":"Liberation Serif","fontSize":22,"align":"left","baseline":"alphabetic","color":"#000000"},"encoding":{"x":{"datum":5.112},"y":{"datum":32}}},
{"mark":{"type":"square","size":24,"filled":true,"color":"#4a8030","opacity":1},"encoding":{"x":{"datum":3.662},"y":{"datum":50}}}]}
]},
{"width":700,"height":34,"layer":[
{"data":{"name":"guides"},"mark":{"type":"rule","color":"#e3e3e3","strokeWidth":1},"encoding":{"x":{"field":"g","type":"quantitative"},"y":{"datum":150},"y2":{"datum":-50}}},
{"data":{"name":"tr"},"transform":[{"filter":"datum.p==10"}],"mark":{"type":"line","color":"#111111","strokeWidth":0.9},"encoding":{"x":{"field":"t","type":"quantitative","scale":{"domain":[4,17],"nice":false,"zero":false},"axis":{"title":null,"labelExpr":"abs(datum.value-round(datum.value))<0.01 && datum.value>4.5 ? format(datum.value,'.2f') : ''"}},"y":{"field":"v","type":"quantitative","scale":{"domain":[0,100],"nice":false,"zero":false},"axis":{"title":"%","labelExpr":"datum.value==0 || datum.value==100 ? datum.label : ''"}}}},
{"data":{"name":"info"},"transform":[{"filter":"datum.p==10"}],"encoding":{"color":{"condition":{"test":"datum.fn==4","value":"#4f8f35"},"value":"#c83a44"}},"layer":[
{"mark":{"type":"text","align":"left","baseline":"middle","fontSize":6.5,"dy":-14},"encoding":{"x":{"datum":3.606},"y":{"datum":100},"text":{"field":"run"}}},
{"mark":{"type":"text","align":"right","baseline":"middle","fontSize":6.5,"dy":-14},"encoding":{"x":{"datum":17.056},"y":{"datum":100},"text":{"field":"mrm"}}},
{"mark":{"type":"text","align":"right","baseline":"middle","fontSize":6.5,"dy":-2},"encoding":{"x":{"datum":17.218},"y":{"datum":100},"text":{"field":"trans"}}},
{"mark":{"type":"text","align":"right","baseline":"middle","fontSize":6.5,"dy":7},"encoding":{"x":{"datum":17.274},"y":{"datum":100},"text":{"field":"sc"}}}]},
{"data":{"name":"peaks"},"transform":[{"filter":"datum.p==10"}],"encoding":{"x":{"field":"rt","type":"quantitative"},"y":{"field":"ht","type":"quantitative"}},"layer":[
{"mark":{"type":"text","align":"right","baseline":"middle","fontSize":6,"dx":-9,"dy":-4},"encoding":{"text":{"field":"l1"}}},
{"mark":{"type":"text","align":"right","baseline":"middle","fontSize":6,"dx":-9,"dy":5},"encoding":{"text":{"field":"l2"}}},
{"mark":{"type":"text","align":"center","baseline":"middle","fontSize":7,"dx":-4,"dy":-3,"text":"–"}}]},
{"data":{"values":[{}]},"layer":[
{"mark":{"type":"square","size":20,"filled":false,"stroke":"#b8b8b8","strokeWidth":0.8},"encoding":{"x":{"datum":3.662},"y":{"datum":50}}}]}
]},
{"width":700,"height":34,"layer":[
{"data":{"name":"guides"},"mark":{"type":"rule","color":"#e3e3e3","strokeWidth":1},"encoding":{"x":{"field":"g","type":"quantitative"},"y":{"datum":150},"y2":{"datum":-50}}},
{"data":{"name":"tr"},"transform":[{"filter":"datum.p==11"}],"mark":{"type":"line","color":"#111111","strokeWidth":0.9},"encoding":{"x":{"field":"t","type":"quantitative","scale":{"domain":[4,17],"nice":false,"zero":false},"axis":{"title":null,"labelExpr":"abs(datum.value-round(datum.value))<0.01 && datum.value>4.5 ? format(datum.value,'.2f') : ''"}},"y":{"field":"v","type":"quantitative","scale":{"domain":[0,100],"nice":false,"zero":false},"axis":{"title":"%","labelExpr":"datum.value==0 || datum.value==100 ? datum.label : ''"}}}},
{"data":{"name":"info"},"transform":[{"filter":"datum.p==11"}],"encoding":{"color":{"condition":{"test":"datum.fn==4","value":"#4f8f35"},"value":"#c83a44"}},"layer":[
{"mark":{"type":"text","align":"left","baseline":"middle","fontSize":6.5,"dy":-14},"encoding":{"x":{"datum":3.606},"y":{"datum":100},"text":{"field":"run"}}},
{"mark":{"type":"text","align":"right","baseline":"middle","fontSize":6.5,"dy":-14},"encoding":{"x":{"datum":17.056},"y":{"datum":100},"text":{"field":"mrm"}}},
{"mark":{"type":"text","align":"right","baseline":"middle","fontSize":6.5,"dy":-2},"encoding":{"x":{"datum":17.218},"y":{"datum":100},"text":{"field":"trans"}}},
{"mark":{"type":"text","align":"right","baseline":"middle","fontSize":6.5,"dy":7},"encoding":{"x":{"datum":17.274},"y":{"datum":100},"text":{"field":"sc"}}}]},
{"data":{"name":"peaks"},"transform":[{"filter":"datum.p==11"}],"encoding":{"x":{"field":"rt","type":"quantitative"},"y":{"field":"ht","type":"quantitative"}},"layer":[
{"mark":{"type":"text","align":"right","baseline":"middle","fontSize":6,"dx":-9,"dy":-4},"encoding":{"text":{"field":"l1"}}},
{"mark":{"type":"text","align":"right","baseline":"middle","fontSize":6,"dx":-9,"dy":5},"encoding":{"text":{"field":"l2"}}},
{"mark":{"type":"text","align":"center","baseline":"middle","fontSize":7,"dx":-4,"dy":-3,"text":"–"}}]},
{"data":{"values":[{"rt":13.23,"ht":100,"l1":"13.23","l2":"181.5"}]},"encoding":{"x":{"field":"rt","type":"quantitative"},"y":{"field":"ht","type":"quantitative"}},"layer":[
{"mark":{"type":"text","align":"left","baseline":"middle","fontSize":6,"dx":4,"dy":-4},"encoding":{"text":{"field":"l1"}}},
{"mark":{"type":"text","align":"left","baseline":"middle","fontSize":6,"dx":4,"dy":5},"encoding":{"text":{"field":"l2"}}}]},
{"data":{"values":[{}]},"layer":[
{"mark":{"type":"square","size":20,"filled":false,"stroke":"#b8b8b8","strokeWidth":0.8},"encoding":{"x":{"datum":3.662},"y":{"datum":50}}}]}
]},
{"width":700,"height":34,"layer":[
{"data":{"name":"guides"},"mark":{"type":"rule","color":"#e3e3e3","strokeWidth":1},"encoding":{"x":{"field":"g","type":"quantitative"},"y":{"datum":150},"y2":{"datum":-50}}},
{"data":{"name":"tr"},"transform":[{"filter":"datum.p==12"}],"mark":{"type":"line","color":"#111111","strokeWidth":0.9},"encoding":{"x":{"field":"t","type":"quantitative","scale":{"domain":[4,17],"nice":false,"zero":false},"axis":{"title":null,"labelExpr":"abs(datum.value-round(datum.value))<0.01 && datum.value>4.5 ? format(datum.value,'.2f') : ''"}},"y":{"field":"v","type":"quantitative","scale":{"domain":[0,100],"nice":false,"zero":false},"axis":{"title":"%","labelExpr":"datum.value==0 || datum.value==100 ? datum.label : ''"}}}},
{"data":{"name":"info"},"transform":[{"filter":"datum.p==12"}],"encoding":{"color":{"condition":{"test":"datum.fn==4","value":"#4f8f35"},"value":"#c83a44"}},"layer":[
{"mark":{"type":"text","align":"left","baseline":"middle","fontSize":6.5,"dy":-14},"encoding":{"x":{"datum":3.606},"y":{"datum":100},"text":{"field":"run"}}},
{"mark":{"type":"text","align":"right","baseline":"middle","fontSize":6.5,"dy":-14},"encoding":{"x":{"datum":17.056},"y":{"datum":100},"text":{"field":"mrm"}}},
{"mark":{"type":"text","align":"right","baseline":"middle","fontSize":6.5,"dy":-2},"encoding":{"x":{"datum":17.218},"y":{"datum":100},"text":{"field":"trans"}}},
{"mark":{"type":"text","align":"right","baseline":"middle","fontSize":6.5,"dy":7},"encoding":{"x":{"datum":17.274},"y":{"datum":100},"text":{"field":"sc"}}}]},
{"data":{"name":"peaks"},"transform":[{"filter":"datum.p==12"}],"encoding":{"x":{"field":"rt","type":"quantitative"},"y":{"field":"ht","type":"quantitative"}},"layer":[
{"mark":{"type":"text","align":"right","baseline":"middle","fontSize":6,"dx":-9,"dy":-4},"encoding":{"text":{"field":"l1"}}},
{"mark":{"type":"text","align":"right","baseline":"middle","fontSize":6,"dx":-9,"dy":5},"encoding":{"text":{"field":"l2"}}},
{"mark":{"type":"text","align":"center","baseline":"middle","fontSize":7,"dx":-4,"dy":-3,"text":"–"}}]},
{"data":{"values":[{"rt":11.37,"ht":37,"l1":"11.37","l2":"181.5"}]},"encoding":{"x":{"field":"rt","type":"quantitative"},"y":{"field":"ht","type":"quantitative"}},"layer":[
{"mark":{"type":"text","align":"center","baseline":"middle","fontSize":6,"dx":-5,"dy":-21},"encoding":{"text":{"field":"l1"}}},
{"mark":{"type":"text","align":"center","baseline":"middle","fontSize":6,"dx":-5,"dy":-12},"encoding":{"text":{"field":"l2"}}}]},
{"data":{"values":[{"rt":13.01,"ht":30,"lab":"13.01;181.5"}]},"encoding":{"x":{"field":"rt","type":"quantitative"},"y":{"field":"ht","type":"quantitative"}},"layer":[
{"mark":{"type":"text","align":"right","baseline":"middle","fontSize":6,"dx":-9,"dy":-8},"encoding":{"text":{"field":"lab"}}}]},
{"data":{"values":[{}]},"layer":[
{"mark":{"type":"square","size":20,"filled":false,"stroke":"#b8b8b8","strokeWidth":0.8},"encoding":{"x":{"datum":3.662},"y":{"datum":50}}}]}
]},
{"width":700,"height":34,"layer":[
{"data":{"name":"guides"},"mark":{"type":"rule","color":"#e3e3e3","strokeWidth":1},"encoding":{"x":{"field":"g","type":"quantitative"},"y":{"datum":150},"y2":{"datum":-50}}},
{"data":{"name":"tr"},"transform":[{"filter":"datum.p==13"}],"mark":{"type":"line","color":"#111111","strokeWidth":0.9},"encoding":{"x":{"field":"t","type":"quantitative","scale":{"domain":[4,17],"nice":false,"zero":false},"axis":{"title":null,"labelExpr":"abs(datum.value-round(datum.value))<0.01 && datum.value>4.5 ? format(datum.value,'.2f') : ''"}},"y":{"field":"v","type":"quantitative","scale":{"domain":[0,100],"nice":false,"zero":false},"axis":{"title":"%","labelExpr":"datum.value==0 || datum.value==100 ? datum.label : ''"}}}},
{"data":{"name":"info"},"transform":[{"filter":"datum.p==13"}],"encoding":{"color":{"condition":{"test":"datum.fn==4","value":"#4f8f35"},"value":"#c83a44"}},"layer":[
{"mark":{"type":"text","align":"left","baseline":"middle","fontSize":6.5,"dy":-14},"encoding":{"x":{"datum":3.606},"y":{"datum":100},"text":{"field":"run"}}},
{"mark":{"type":"text","align":"right","baseline":"middle","fontSize":6.5,"dy":-14},"encoding":{"x":{"datum":17.056},"y":{"datum":100},"text":{"field":"mrm"}}},
{"mark":{"type":"text","align":"right","baseline":"middle","fontSize":6.5,"dy":-2},"encoding":{"x":{"datum":17.218},"y":{"datum":100},"text":{"field":"trans"}}},
{"mark":{"type":"text","align":"right","baseline":"middle","fontSize":6.5,"dy":7},"encoding":{"x":{"datum":17.274},"y":{"datum":100},"text":{"field":"sc"}}}]},
{"data":{"name":"peaks"},"transform":[{"filter":"datum.p==13"}],"encoding":{"x":{"field":"rt","type":"quantitative"},"y":{"field":"ht","type":"quantitative"}},"layer":[
{"mark":{"type":"text","align":"right","baseline":"middle","fontSize":6,"dx":-9,"dy":-4},"encoding":{"text":{"field":"l1"}}},
{"mark":{"type":"text","align":"right","baseline":"middle","fontSize":6,"dx":-9,"dy":5},"encoding":{"text":{"field":"l2"}}},
{"mark":{"type":"text","align":"center","baseline":"middle","fontSize":7,"dx":-4,"dy":-3,"text":"–"}}]},
{"data":{"values":[{}]},"layer":[
{"mark":{"type":"square","size":20,"filled":false,"stroke":"#b8b8b8","strokeWidth":0.8},"encoding":{"x":{"datum":3.662},"y":{"datum":50}}}]}
]},
{"width":700,"height":34,"layer":[
{"data":{"name":"guides"},"mark":{"type":"rule","color":"#e3e3e3","strokeWidth":1},"encoding":{"x":{"field":"g","type":"quantitative"},"y":{"datum":150},"y2":{"datum":-50}}},
{"data":{"name":"tr"},"transform":[{"filter":"datum.p==14"}],"mark":{"type":"line","color":"#111111","strokeWidth":0.9},"encoding":{"x":{"field":"t","type":"quantitative","scale":{"domain":[4,17],"nice":false,"zero":false},"axis":{"title":null,"labelExpr":"abs(datum.value-round(datum.value))<0.01 && datum.value>4.5 ? format(datum.value,'.2f') : ''"}},"y":{"field":"v","type":"quantitative","scale":{"domain":[0,100],"nice":false,"zero":false},"axis":{"title":"%","labelExpr":"datum.value==0 || datum.value==100 ? datum.label : ''"}}}},
{"data":{"name":"info"},"transform":[{"filter":"datum.p==14"}],"encoding":{"color":{"condition":{"test":"datum.fn==4","value":"#4f8f35"},"value":"#c83a44"}},"layer":[
{"mark":{"type":"text","align":"left","baseline":"middle","fontSize":6.5,"dy":-14},"encoding":{"x":{"datum":3.606},"y":{"datum":100},"text":{"field":"run"}}},
{"mark":{"type":"text","align":"right","baseline":"middle","fontSize":6.5,"dy":-14},"encoding":{"x":{"datum":17.056},"y":{"datum":100},"text":{"field":"mrm"}}},
{"mark":{"type":"text","align":"right","baseline":"middle","fontSize":6.5,"dy":-2},"encoding":{"x":{"datum":17.218},"y":{"datum":100},"text":{"field":"trans"}}},
{"mark":{"type":"text","align":"right","baseline":"middle","fontSize":6.5,"dy":7},"encoding":{"x":{"datum":17.274},"y":{"datum":100},"text":{"field":"sc"}}}]},
{"data":{"name":"peaks"},"transform":[{"filter":"datum.p==14"}],"encoding":{"x":{"field":"rt","type":"quantitative"},"y":{"field":"ht","type":"quantitative"}},"layer":[
{"mark":{"type":"text","align":"right","baseline":"middle","fontSize":6,"dx":-9,"dy":-4},"encoding":{"text":{"field":"l1"}}},
{"mark":{"type":"text","align":"right","baseline":"middle","fontSize":6,"dx":-9,"dy":5},"encoding":{"text":{"field":"l2"}}},
{"mark":{"type":"text","align":"center","baseline":"middle","fontSize":7,"dx":-4,"dy":-3,"text":"–"}}]},
{"data":{"values":[{"rt":9.14,"ht":40,"l1":"9.14","l2":"167.4"}]},"encoding":{"x":{"field":"rt","type":"quantitative"},"y":{"field":"ht","type":"quantitative"}},"layer":[
{"mark":{"type":"text","align":"center","baseline":"middle","fontSize":6,"dx":-3,"dy":-20},"encoding":{"text":{"field":"l1"}}},
{"mark":{"type":"text","align":"center","baseline":"middle","fontSize":6,"dx":-3,"dy":-11},"encoding":{"text":{"field":"l2"}}}]},
{"data":{"values":[{}]},"layer":[
{"mark":{"type":"square","size":20,"filled":false,"stroke":"#b8b8b8","strokeWidth":0.8},"encoding":{"x":{"datum":3.662},"y":{"datum":50}}}]}
]},
{"width":700,"height":34,"layer":[
{"data":{"name":"guides"},"mark":{"type":"rule","color":"#e3e3e3","strokeWidth":1},"encoding":{"x":{"field":"g","type":"quantitative"},"y":{"datum":150},"y2":{"datum":-50}}},
{"data":{"name":"tr"},"transform":[{"filter":"datum.p==15"}],"mark":{"type":"line","color":"#111111","strokeWidth":0.9},"encoding":{"x":{"field":"t","type":"quantitative","scale":{"domain":[4,17],"nice":false,"zero":false},"axis":{"title":null,"labelExpr":"abs(datum.value-round(datum.value))<0.01 && datum.value>4.5 ? format(datum.value,'.2f') : ''"}},"y":{"field":"v","type":"quantitative","scale":{"domain":[0,100],"nice":false,"zero":false},"axis":{"title":"%","labelExpr":"datum.value==0 || datum.value==100 ? datum.label : ''"}}}},
{"data":{"name":"info"},"transform":[{"filter":"datum.p==15"}],"encoding":{"color":{"condition":{"test":"datum.fn==4","value":"#4f8f35"},"value":"#c83a44"}},"layer":[
{"mark":{"type":"text","align":"left","baseline":"middle","fontSize":6.5,"dy":-14},"encoding":{"x":{"datum":3.606},"y":{"datum":100},"text":{"field":"run"}}},
{"mark":{"type":"text","align":"right","baseline":"middle","fontSize":6.5,"dy":-14},"encoding":{"x":{"datum":17.056},"y":{"datum":100},"text":{"field":"mrm"}}},
{"mark":{"type":"text","align":"right","baseline":"middle","fontSize":6.5,"dy":-2},"encoding":{"x":{"datum":17.218},"y":{"datum":100},"text":{"field":"trans"}}},
{"mark":{"type":"text","align":"right","baseline":"middle","fontSize":6.5,"dy":7},"encoding":{"x":{"datum":17.274},"y":{"datum":100},"text":{"field":"sc"}}}]},
{"data":{"name":"peaks"},"transform":[{"filter":"datum.p==15"}],"encoding":{"x":{"field":"rt","type":"quantitative"},"y":{"field":"ht","type":"quantitative"}},"layer":[
{"mark":{"type":"text","align":"right","baseline":"middle","fontSize":6,"dx":-9,"dy":-4},"encoding":{"text":{"field":"l1"}}},
{"mark":{"type":"text","align":"right","baseline":"middle","fontSize":6,"dx":-9,"dy":5},"encoding":{"text":{"field":"l2"}}},
{"mark":{"type":"text","align":"center","baseline":"middle","fontSize":7,"dx":-4,"dy":-3,"text":"–"}}]},
{"data":{"values":[{}]},"layer":[
{"mark":{"type":"square","size":20,"filled":false,"stroke":"#b8b8b8","strokeWidth":0.8},"encoding":{"x":{"datum":3.662},"y":{"datum":50}}}]}
]},
{"width":700,"height":34,"layer":[
{"data":{"name":"guides"},"mark":{"type":"rule","color":"#e3e3e3","strokeWidth":1},"encoding":{"x":{"field":"g","type":"quantitative"},"y":{"datum":150},"y2":{"datum":0}}},
{"data":{"name":"tr"},"transform":[{"filter":"datum.p==16"}],"mark":{"type":"line","color":"#111111","strokeWidth":0.9},"encoding":{"x":{"field":"t","type":"quantitative","scale":{"domain":[4,17],"nice":false,"zero":false},"axis":{"title":null,"labelExpr":"abs(datum.value-round(datum.value))<0.01 && datum.value>4.5 ? format(datum.value,'.2f') : ''"}},"y":{"field":"v","type":"quantitative","scale":{"domain":[0,100],"nice":false,"zero":false},"axis":{"title":"%","labelExpr":"datum.value==0 || datum.value==100 ? datum.label : ''"}}}},
{"data":{"name":"info"},"transform":[{"filter":"datum.p==16"}],"encoding":{"color":{"condition":{"test":"datum.fn==4","value":"#4f8f35"},"value":"#c83a44"}},"layer":[
{"mark":{"type":"text","align":"left","baseline":"middle","fontSize":6.5,"dy":-14},"encoding":{"x":{"datum":3.606},"y":{"datum":100},"text":{"field":"run"}}},
{"mark":{"type":"text","align":"right","baseline":"middle","fontSize":6.5,"dy":-14},"encoding":{"x":{"datum":17.056},"y":{"datum":100},"text":{"field":"mrm"}}},
{"mark":{"type":"text","align":"right","baseline":"middle","fontSize":6.5,"dy":-2},"encoding":{"x":{"datum":17.218},"y":{"datum":100},"text":{"field":"trans"}}},
{"mark":{"type":"text","align":"right","baseline":"middle","fontSize":6.5,"dy":7},"encoding":{"x":{"datum":17.274},"y":{"datum":100},"text":{"field":"sc"}}}]},
{"data":{"name":"peaks"},"transform":[{"filter":"datum.p==16"}],"encoding":{"x":{"field":"rt","type":"quantitative"},"y":{"field":"ht","type":"quantitative"}},"layer":[
{"mark":{"type":"text","align":"right","baseline":"middle","fontSize":6,"dx":-9,"dy":-4},"encoding":{"text":{"field":"l1"}}},
{"mark":{"type":"text","align":"right","baseline":"middle","fontSize":6,"dx":-9,"dy":5},"encoding":{"text":{"field":"l2"}}},
{"mark":{"type":"text","align":"center","baseline":"middle","fontSize":7,"dx":-4,"dy":-3,"text":"–"}}]},
{"data":{"values":[{}]},"layer":[
{"mark":{"type":"square","size":20,"filled":false,"stroke":"#b8b8b8","strokeWidth":0.8},"encoding":{"x":{"datum":3.662},"y":{"datum":50}}},
{"mark":{"type":"text","text":"Time","align":"left","baseline":"middle","fontSize":6.5,"dx":2},"encoding":{"x":{"datum":17.0},"y":{"datum":0}}},
{"mark":{"type":"rule","color":"#9a9a9a","strokeWidth":3.5},"encoding":{"x":{"datum":4.85},"y":{"datum":-129.4},"y2":{"datum":-64.7}}},
{"mark":{"type":"point","shape":"M0,0L0.85,2L-0.85,2Z","filled":true,"color":"#9a9a9a","opacity":1,"size":256,"angle":0},"encoding":{"x":{"datum":4.85},"y":{"datum":-35.3}}},
{"mark":{"type":"rule","color":"#9a9a9a","strokeWidth":3.5},"encoding":{"x":{"datum":7.896},"y":{"datum":-105.9},"x2":{"datum":8.303},"y2":{"datum":-58.5}}},
{"mark":{"type":"point","shape":"M0,0L0.85,2L-0.85,2Z","filled":true,"color":"#9a9a9a","opacity":1,"size":256,"angle":53.7},"encoding":{"x":{"datum":8.453},"y":{"datum":-41.2}}},
{"mark":{"type":"rule","color":"#9a9a9a","strokeWidth":3.5},"encoding":{"x":{"datum":8.527},"y":{"datum":-182.3},"x2":{"datum":9.003},"y2":{"datum":-65.9}}},
{"mark":{"type":"point","shape":"M0,0L0.85,2L-0.85,2Z","filled":true,"color":"#9a9a9a","opacity":1,"size":256,"angle":32.9},"encoding":{"x":{"datum":9.103},"y":{"datum":-41.2}}},
{"mark":{"type":"rule","color":"#9a9a9a","strokeWidth":3.5},"encoding":{"x":{"datum":9.716},"y":{"datum":-135.3},"y2":{"datum":-76.5}}},
{"mark":{"type":"point","shape":"M0,0L0.85,2L-0.85,2Z","filled":true,"color":"#9a9a9a","opacity":1,"size":256,"angle":0},"encoding":{"x":{"datum":9.716},"y":{"datum":-47.1}}},
{"mark":{"type":"rule","color":"#9a9a9a","strokeWidth":3.5},"encoding":{"x":{"datum":11.685},"y":{"datum":-123.5},"x2":{"datum":11.466},"y2":{"datum":-66.2}}},
{"mark":{"type":"point","shape":"M0,0L0.85,2L-0.85,2Z","filled":true,"color":"#9a9a9a","opacity":1,"size":256,"angle":-31.3},"encoding":{"x":{"datum":11.369},"y":{"datum":-41.2}}},
{"mark":{"type":"rule","color":"#9a9a9a","strokeWidth":3.5},"encoding":{"x":{"datum":12.892},"y":{"datum":-179.4},"y2":{"datum":-70.6}}},
{"mark":{"type":"point","shape":"M0,0L0.85,2L-0.85,2Z","filled":true,"color":"#9a9a9a","opacity":1,"size":256,"angle":0},"encoding":{"x":{"datum":12.892},"y":{"datum":-41.2}}},
{"mark":{"type":"rule","color":"#000000","strokeWidth":3.5},"encoding":{"x":{"datum":13.876},"y":{"datum":-108.8},"x2":{"datum":13.52},"y2":{"datum":-47.9}}},
{"mark":{"type":"point","shape":"M0,0L0.85,2L-0.85,2Z","filled":true,"color":"#000000","opacity":1,"size":324,"angle":-42.9},"encoding":{"x":{"datum":13.393},"y":{"datum":-26.5}}},
{"mark":{"type":"rule","color":"#000000","strokeWidth":3.5},"encoding":{"x":{"datum":15.925},"y":{"datum":-167.6},"y2":{"datum":-88.3}}},
{"mark":{"type":"point","shape":"M0,0L0.85,2L-0.85,2Z","filled":true,"color":"#000000","opacity":1,"size":324,"angle":0},"encoding":{"x":{"datum":15.925},"y":{"datum":-55.9}}},
{"mark":{"type":"text","text":"xanthine","font":"Liberation Serif","fontSize":11,"align":"center","baseline":"middle","color":"#222222"},"encoding":{"x":{"datum":4.87},"y":{"datum":-155.9}}},
{"mark":{"type":"text","text":"7-methylxanthine","font":"Liberation Serif","fontSize":11,"align":"center","baseline":"middle","color":"#222222"},"encoding":{"x":{"datum":7.47},"y":{"datum":-126.5}}},
{"mark":{"type":"text","text":"3-methylxanthine","font":"Liberation Serif","fontSize":11,"align":"center","baseline":"middle","color":"#222222"},"encoding":{"x":{"datum":8.49},"y":{"datum":-205.9}}},
{"mark":{"type":"text","text":"1-methylxanthine","font":"Liberation Serif","fontSize":11,"align":"center","baseline":"middle","color":"#222222"},"encoding":{"x":{"datum":10.01},"y":{"datum":-155.9}}},
{"mark":{"type":"text","text":"Theobromine","font":"Liberation Serif","fontSize":11,"align":"center","baseline":"middle","color":"#222222"},"encoding":{"x":{"datum":11.8},"y":{"datum":-150}}},
{"mark":{"type":"text","text":"Paraxanthine","font":"Liberation Serif","fontSize":11,"align":"center","baseline":"middle","color":"#222222"},"encoding":{"x":{"datum":12.725},"y":{"datum":-200}}},
{"mark":{"type":"text","text":"Theophylline","font":"Liberation Serif","fontSize":16,"fontWeight":"bold","align":"center","baseline":"middle","color":"#000000"},"encoding":{"x":{"datum":14.396},"y":{"datum":-141.2}}},
{"mark":{"type":"text","text":"Caffeine","font":"Liberation Serif","fontSize":16,"fontWeight":"bold","align":"center","baseline":"middle","color":"#000000"},"encoding":{"x":{"datum":15.88},"y":{"datum":-202.9}}}]}
]}
]}
],
"config":{
"view":{"stroke":null},
"text":{"font":"'Liberation Sans Narrow', 'Liberation Sans', sans-serif","color":"#111111"},
"axis":{"grid":false,"domainColor":"#111111","domainWidth":1,"tickColor":"#111111","tickWidth":0.8,"labelFont":"'Liberation Sans Narrow', 'Liberation Sans', sans-serif","labelFontSize":6.5,"labelColor":"#222222","titleFont":"Liberation Sans","titleFontSize":7,"titleFontWeight":"normal","titleColor":"#222222","labelOverlap":false,"labelFlush":false},
"axisX":{"tickSize":3,"labelPadding":2,"tickCount":130},
"axisY":{"tickSize":2.5,"labelPadding":1,"tickCount":4,"titleAngle":0,"titleX":-6,"titleY":27,"titleAlign":"center","titleBaseline":"middle","labelBaseline":"middle"}
}
}
